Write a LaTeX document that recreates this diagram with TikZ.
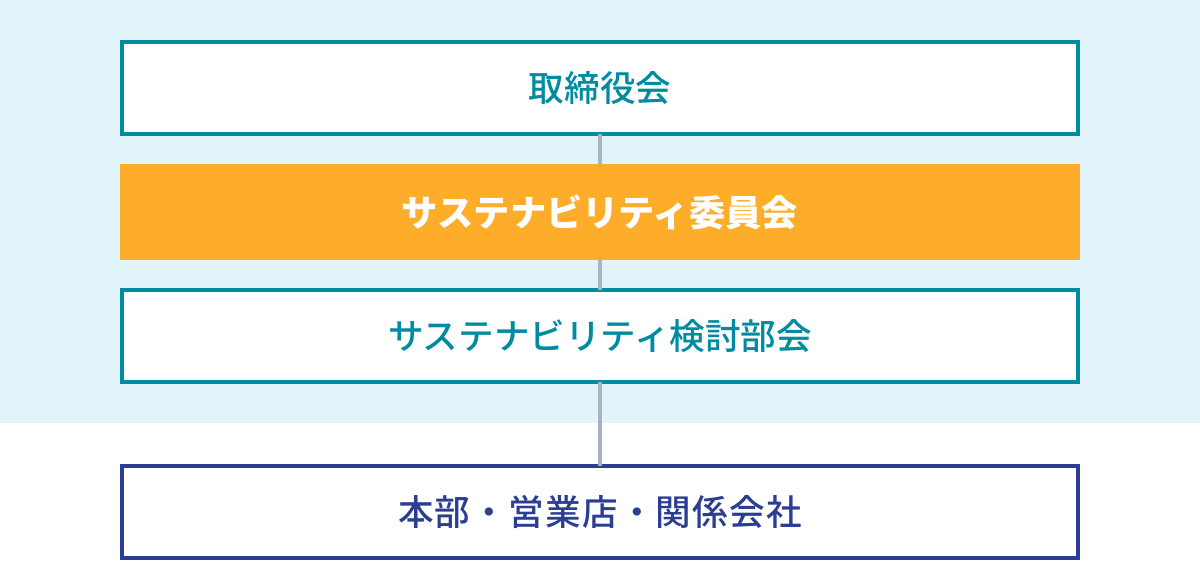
\documentclass[tikz,border=0pt]{standalone}
\usepackage{fontspec}
\newfontfamily\cjk{Noto Sans CJK JP}
\newfontfamily\cjkmed{Noto Sans CJK JP Medium}
\definecolor{bgblue}{HTML}{E1F4FA}
\definecolor{teal}{HTML}{008CA0}
\definecolor{navy}{HTML}{2C3E93}
\definecolor{amber}{HTML}{FDAD29}
\definecolor{linkgray}{HTML}{A8B3C1}
\begin{document}
\begin{tikzpicture}[
every node/.style={
align=center,
outer sep=0pt,
font=\cjkmed\fontsize{25.3pt}{30pt}\selectfont
},
framebox/.style={
draw=#1,
text=#1,
fill=white,
line width=0.1cm,
minimum width=23.9cm,
minimum height=2.3cm
},
fillbox/.style={
fill=amber,
text=white,
minimum width=24cm,
minimum height=2.4cm,
font=\cjk\bfseries\fontsize{25.8pt}{30pt}\selectfont
},
link/.style={
draw=linkgray,
line width=0.1cm
}
]

\useasboundingbox (0,0) rectangle (30,-14);
\fill[bgblue] (0,0) rectangle (30,-10.575);

\node[framebox=teal] (board) at (15,-2.2)
{取締役会};

\node[fillbox] (committee) at (15,-5.3)
{サステナビリティ委員会};

\node[framebox=teal] (panel) at (15,-8.4)
{サステナビリティ検討部会};

\node[framebox=navy] (units) at (15,-12.8)
{\addfontfeature{LetterSpace=3.5}本部・営業店・関係会社};

\draw[link] (board) -- (committee);
\draw[link] (committee) -- (panel);
\draw[link] (panel) -- (units);

\end{tikzpicture}
\end{document}
